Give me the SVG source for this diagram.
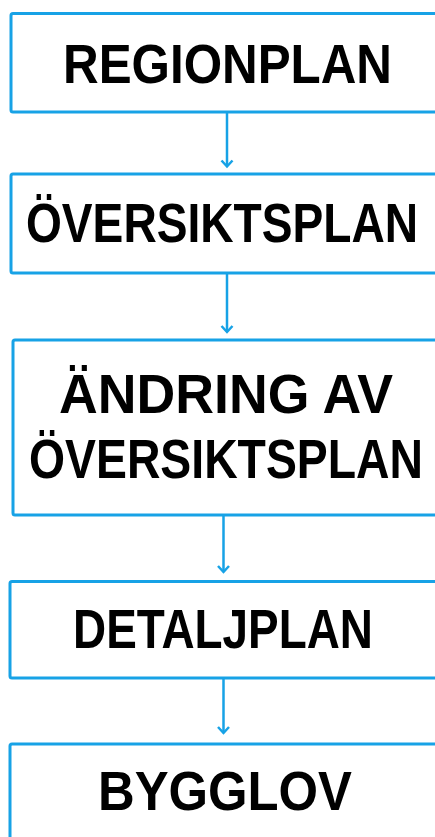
<svg xmlns="http://www.w3.org/2000/svg" width="435" height="837" viewBox="0 0 435 837">
<style>
.box{fill:#fff;stroke:#17a2e6;stroke-width:3;}
.lbl{font-family:"Liberation Sans",Arial,sans-serif;font-weight:bold;font-size:55px;fill:#000;}
.con{stroke:#17a2e6;stroke-width:2.5;fill:none;}
.head{stroke:#17a2e6;stroke-width:2.5;fill:none;stroke-linejoin:miter;}
</style>
<rect width="435" height="837" fill="#fff"/>
<g id="connectors">
<line class="con" x1="227" y1="113" x2="227" y2="166"/>
<path class="head" d="M221.5,160.5 L227,166.5 L232.5,160.5"/>
<line class="con" x1="227" y1="274" x2="227" y2="332"/>
<path class="head" d="M221.5,326 L227,332 L232.5,326"/>
<line class="con" x1="223.5" y1="516" x2="223.5" y2="572"/>
<path class="head" d="M218,566 L223.5,572 L229,566"/>
<line class="con" x1="223.5" y1="679" x2="223.5" y2="733"/>
<path class="head" d="M218,727 L223.5,733 L229,727"/>
</g>
<g id="regionplan">
<rect class="box" x="11" y="13.5" width="440" height="98.5" rx="2"/>
<text class="lbl" x="63" y="83" textLength="329" lengthAdjust="spacingAndGlyphs">REGIONPLAN</text>
</g>
<g id="oversiktsplan">
<rect class="box" x="11" y="174" width="440" height="99" rx="2"/>
<text class="lbl" x="26" y="242" textLength="392" lengthAdjust="spacingAndGlyphs">ÖVERSIKTSPLAN</text>
</g>
<g id="andring">
<rect class="box" x="13" y="340" width="440" height="175" rx="2"/>
<text class="lbl" x="59" y="413" textLength="334" lengthAdjust="spacingAndGlyphs">ÄNDRING AV</text>
<text class="lbl" x="29" y="478" textLength="394" lengthAdjust="spacingAndGlyphs">ÖVERSIKTSPLAN</text>
</g>
<g id="detaljplan">
<rect class="box" x="10" y="581.5" width="440" height="96.5" rx="2"/>
<text class="lbl" x="73" y="648" textLength="300" lengthAdjust="spacingAndGlyphs">DETALJPLAN</text>
</g>
<g id="bygglov">
<rect class="box" x="10" y="744" width="440" height="120" rx="2"/>
<text class="lbl" x="98" y="810" textLength="254" lengthAdjust="spacingAndGlyphs">BYGGLOV</text>
</g>
</svg>
